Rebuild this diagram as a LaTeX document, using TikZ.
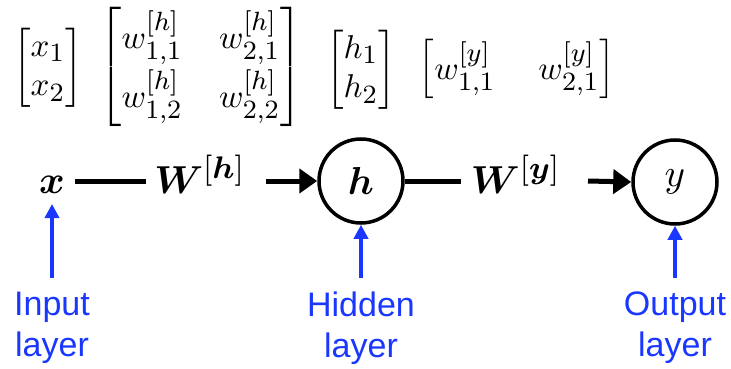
\documentclass[tikz,border=0pt]{standalone}
\usepackage{amsmath,bm,graphicx}
\usepackage{fontspec}
\newfontfamily\labfont{Liberation Sans}
\usetikzlibrary{arrows.meta}
\DeclareMathSizes{10}{10}{8}{6}
\definecolor{labblue}{RGB}{25,55,255}
\newcommand{\mtxs}[1]{\scalebox{3.3}{#1}}
\newcommand{\bigs}[1]{\scalebox{3.9}{#1}}
\begin{document}
\begin{tikzpicture}[x=1pt,y=-1pt,
  mtx/.style={inner sep=0pt},
  big/.style={inner sep=0pt},
  neuron/.style={draw,circle,line width=3.5pt,minimum size=84pt,inner sep=0pt},
  conn/.style={line width=5pt},
  flow/.style={line width=5pt,-{Triangle[length=18pt,width=24pt]}},
  blarrow/.style={draw=labblue,line width=4pt,-{Triangle[length=14pt,width=14pt]}},
  lab/.style={text=labblue,align=center,inner sep=0pt,font=\labfont\fontsize{34}{41}\selectfont}]
\path[use as bounding box] (0,0) rectangle (731,369);
% top vectors / matrices
\setlength{\arraycolsep}{5.5pt}
\node[mtx] (vx) at (48,68) {\mtxs{$\begin{bmatrix} x_1\\ x_2\end{bmatrix}$}};
\node[mtx] (mw) at (201,67) {\mtxs{$\begin{bmatrix} w^{[h]}_{1,1} & w^{[h]}_{2,1}\\[3pt] w^{[h]}_{1,2} & w^{[h]}_{2,2}\end{bmatrix}$}};
\node[mtx] (vh) at (361,70) {\mtxs{$\begin{bmatrix} h_1\\ h_2\end{bmatrix}$}};
{\setlength{\arraycolsep}{6.5pt}
\node[mtx] (my) at (517,69) {\mtxs{$\begin{bmatrix} w^{[y]}_{1,1} & w^{[y]}_{2,1}\end{bmatrix}$}};}
% main chain
\node[big,anchor=base] (x) at (52,193) {\bigs{$\bm{x}$}};
\node[big,anchor=base] (Wh) at (200,193) {\bigs{$\bm{W}^{[\bm{h}]}$}};
\node[neuron] (h) at (361,181) {\bigs{$\bm{h}$}};
\node[big,anchor=base] (Wy) at (516,193) {\bigs{$\bm{W}^{[\bm{y}]}$}};
\node[neuron] (y) at (675,182) {\bigs{$y$}};
\coordinate (c1) at (75,181);
\coordinate (c2) at (146,181);
\coordinate (c3) at (266,181);
\coordinate (c4) at (461,181);
\coordinate (c5) at (588,181);
\draw[conn] (c1) -- (c2);
\draw[flow] (c3) -- (h.west);
\draw[conn] (h.east) -- (c4);
\draw[flow] (c5) -- (y.west);
% labels
\node[lab,anchor=north] (li) at (52,292) {Input\\layer};
\node[lab,anchor=north] (lh) at (361,292) {Hidden\\layer};
\node[lab,anchor=north] (lo) at (675,292) {Output\\layer};
\coordinate (a1) at (52,278);
\coordinate (a2) at (361,278);
\coordinate (a3) at (675,278);
\coordinate (t1) at (52,204);
\draw[blarrow] (a1) -- (t1);
\draw[blarrow] (a2) -- (h.south);
\draw[blarrow] (a3) -- (y.south);
\end{tikzpicture}
\end{document}
